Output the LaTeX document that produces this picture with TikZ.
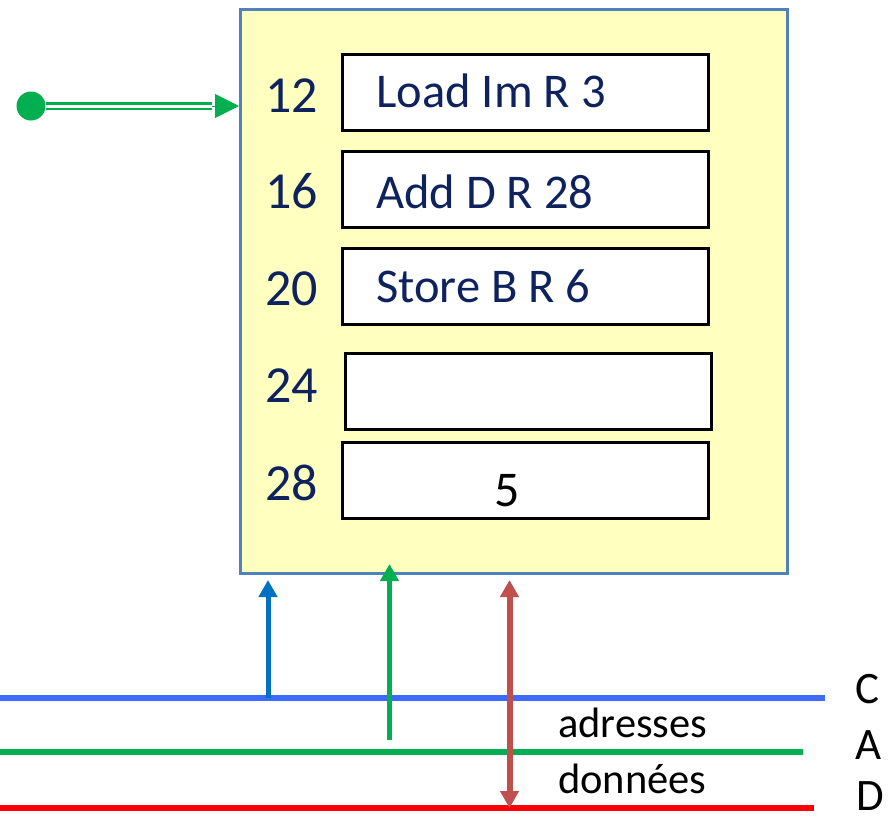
\documentclass[tikz,border=0pt]{standalone}
\usepackage{fontspec}
\setmainfont{Carlito}
\usetikzlibrary{arrows.meta}
\definecolor{navy}{RGB}{14,34,94}
\definecolor{memfill}{RGB}{255,255,192}
\definecolor{memedge}{RGB}{79,129,189}
\definecolor{ctrlblue}{RGB}{0,112,192}
\definecolor{buscblue}{RGB}{61,106,250}
\definecolor{busgreen}{RGB}{0,176,80}
\definecolor{datared}{RGB}{192,80,77}
\definecolor{busred}{RGB}{255,0,0}
\tikzset{
  memory/.style={draw=memedge, line width=2.5pt, fill=memfill, anchor=north west,
    minimum width=547pt, minimum height=564pt, inner sep=0pt},
  cell/.style={draw=black, line width=2.5pt, fill=white, anchor=north west,
    minimum width=366pt, minimum height=76pt, inner sep=0pt},
  addr/.style={anchor=base west, inner sep=0pt, text=navy, font=\fontsize{52}{60}\selectfont},
  instr/.style={anchor=base west, inner sep=0pt, text=navy, font=\fontsize{48.5}{56}\selectfont},
  buslabel/.style={anchor=base west, inner sep=0pt, font=\fontsize{42.5}{50}\selectfont},
  busname/.style={anchor=base west, inner sep=0pt, font=\fontsize{45}{54}\selectfont},
  busline/.style={line width=5.5pt},
  tip/.style={-{Triangle[length=17pt,width=18pt]}},
  bothtips/.style={{Triangle[length=17pt,width=18pt]}-{Triangle[length=17pt,width=18pt]}},
}
\begin{document}
\begin{tikzpicture}[x=1pt,y=-1pt]
\useasboundingbox (0,0) rectangle (888,817);

% memory block and its cells
\node[memory] (mem) at (239,8) {};
\node[cell] (c12) at (341,53) {};
\node[cell] (c16) at (341,150) {};
\node[cell] (c20) at (341,247) {};
\node[cell] (c24) at (344,352) {};
\node[cell] (c28) at (341,441) {};

% addresses
\node[addr] (a12) at (265,112) {12};
\node[addr] (a16) at (265,208) {16};
\node[addr] (a20) at (265,305) {20};
\node[addr] (a24) at (265,402) {24};
\node[addr] (a28) at (265,500) {28};

% cell contents
\node[instr] (i12) at (376,107) {Load Im R 3};
\node[instr] (i16) at (376,208) {Add D R 28};
\node[instr] (i20) at (376,302) {Store B R 6};
\node[anchor=base, inner sep=0pt, font=\fontsize{50}{58}\selectfont] (v28) at (507,506) {5};

% incoming pointer
\node[circle, fill=busgreen, minimum size=29pt, inner sep=0pt] (dot) at (31,106) {};
\coordinate (hbase) at (212,106);
\draw[busgreen, line width=2.5pt, double=white, double distance=3pt] (dot.east) -- (hbase);
\draw[busgreen, line width=1pt, -{Triangle[length=24pt,width=24pt]}] (hbase) -- (mem.west |- hbase);

% buses
\coordinate (cL) at (0,698);  \coordinate (cR) at (825,698);
\coordinate (aL) at (0,752);  \coordinate (aR) at (803,752);
\coordinate (dL) at (0,808);  \coordinate (dR) at (814,808);
\draw[busline, buscblue] (cL) -- (cR);
\draw[busline, busgreen] (aL) -- (aR);
\draw[busline, busred] (dL) -- (dR);

\node[busname] (lc) at (855,703) {C};
\node[busname] (la) at (855,759) {A};
\node[busname] (ld) at (856,810) {D};
\node[buslabel] (ladr) at (558,737) {adresses};
\node[buslabel] (ldon) at (558,793) {données};

% links between buses and memory
\coordinate (cFoot) at (268,698);  \coordinate (cHead) at (268,580);
\coordinate (aFoot) at (389.5,740); \coordinate (aHead) at (389.5,564);
\coordinate (dFoot) at (509.5,808); \coordinate (dHead) at (509.5,580);
\draw[ctrlblue, line width=5pt, tip] (cFoot) -- (cHead);
\draw[busgreen, line width=5.5pt, tip] (aFoot) -- (aHead);
\draw[datared, line width=6pt, bothtips] (dFoot) -- (dHead);
\end{tikzpicture}
\end{document}
